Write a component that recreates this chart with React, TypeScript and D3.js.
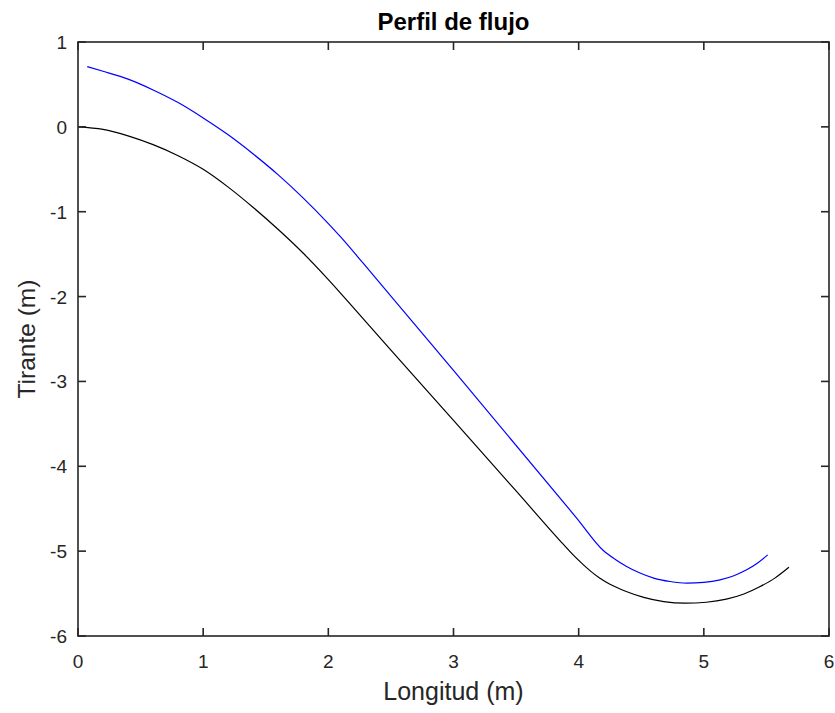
import React from "react";
import * as d3 from "d3";

const bedX = [0, 0.2, 0.4, 0.6, 0.8, 1.0, 1.2, 1.4, 1.6, 1.8, 2.0, 2.2, 2.5, 3.0, 3.5, 3.85, 3.95, 4.03, 4.09, 4.17, 4.25, 4.38, 4.52, 4.68, 4.85, 5.02, 5.18, 5.32, 5.45, 5.57, 5.68];
const bedY = [0, -0.03, -0.106, -0.21, -0.34, -0.5, -0.71, -0.95, -1.21, -1.49, -1.8, -2.13, -2.63, -3.46, -4.29, -4.875, -5.035, -5.15, -5.23, -5.32, -5.39, -5.475, -5.545, -5.595, -5.613, -5.602, -5.566, -5.505, -5.417, -5.315, -5.19];

const waterX = [0.074, 0.2, 0.4, 0.6, 0.8, 1.0, 1.2, 1.4, 1.6, 1.8, 2.0, 2.1, 2.2, 2.28, 3.0, 3.984, 4.197, 4.29, 4.383, 4.49, 4.6, 4.73, 4.863, 5.0, 5.13, 5.24, 5.342, 5.43, 5.51];
const waterY = [0.71, 0.655, 0.562, 0.435, 0.286, 0.105, -0.094, -0.32, -0.566, -0.84, -1.14, -1.3, -1.47, -1.61, -2.87, -4.61, -4.993, -5.095, -5.18, -5.258, -5.318, -5.358, -5.377, -5.368, -5.338, -5.29, -5.22, -5.14, -5.044];

const xTicks = [0, 1, 2, 3, 4, 5, 6];
const yTicks = [1, 0, -1, -2, -3, -4, -5, -6];

const W = 835;
const H = 713;
const left = 78;
const right = 829;
const top = 42;
const bottom = 636;
const axisColor = "#262626";
const font = "'Liberation Sans', Arial, Helvetica, sans-serif";

export default function App() {
  const x = d3.scaleLinear().domain([0, 6]).range([left, right]);
  const y = d3.scaleLinear().domain([-6, 1]).range([bottom, top]);
  const line = d3
    .line<[number, number]>()
    .x((d) => x(d[0]))
    .y((d) => y(d[1]))
    .curve(d3.curveMonotoneX);
  const bed = bedX.map((v, i) => [v, bedY[i]] as [number, number]);
  const water = waterX.map((v, i) => [v, waterY[i]] as [number, number]);
  const tl = 8;
  return (
    <svg
      width={W}
      height={H}
      style={{ position: "absolute", left: 0, top: 0, background: "#fff", display: "block" }}
    >
      <rect x={0} y={0} width={W} height={H} fill="#fff" />
      <path d={line(bed) || ""} fill="none" stroke="#000" strokeWidth={1.2} />
      <path d={line(water) || ""} fill="none" stroke="#0000ff" strokeWidth={1.2} />
      <rect x={left} y={top} width={right - left} height={bottom - top} fill="none" stroke={axisColor} strokeWidth={1.6} />
      {xTicks.map((t) => (
        <g key={"x" + t}>
          <line x1={x(t)} x2={x(t)} y1={bottom} y2={bottom - tl} stroke={axisColor} strokeWidth={1.6} />
          <line x1={x(t)} x2={x(t)} y1={top} y2={top + tl} stroke={axisColor} strokeWidth={1.6} />
          <text x={x(t)} y={668} textAnchor="middle" fontSize={19} fontFamily={font} fill={axisColor}>
            {t}
          </text>
        </g>
      ))}
      {yTicks.map((t) => (
        <g key={"y" + t}>
          <line x1={left} x2={left + tl} y1={y(t)} y2={y(t)} stroke={axisColor} strokeWidth={1.6} />
          <line x1={right} x2={right - tl} y1={y(t)} y2={y(t)} stroke={axisColor} strokeWidth={1.6} />
          <text x={67} y={y(t) + 7} textAnchor="end" fontSize={19} fontFamily={font} fill={axisColor}>
            {t}
          </text>
        </g>
      ))}
      <text x={(left + right) / 2} y={30} textAnchor="middle" fontSize={24} fontWeight="bold" fontFamily={font} fill="#000">
        Perfil de flujo
      </text>
      <text x={(left + right) / 2} y={700} textAnchor="middle" fontSize={25} fontFamily={font} fill={axisColor}>
        Longitud (m)
      </text>
      <text
        transform={`translate(35, ${(top + bottom) / 2}) rotate(-90)`}
        textAnchor="middle"
        fontSize={24.5}
        fontFamily={font}
        fill={axisColor}
      >
        Tirante (m)
      </text>
    </svg>
  );
}
